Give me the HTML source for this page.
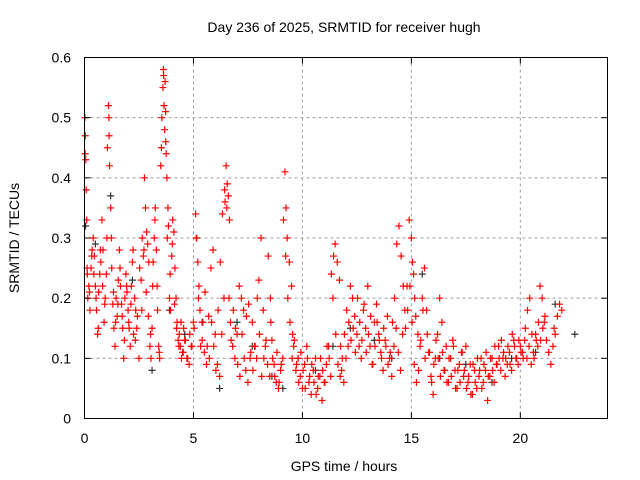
<!DOCTYPE html>
<html><head><meta charset="utf-8"><style>
html,body{margin:0;padding:0;background:#fff}
svg{display:block;font-family:"Liberation Sans",sans-serif}
</style></head><body>
<svg id="chart" width="640" height="480" viewBox="0 0 640 480">
<rect x="0" y="0" width="640" height="480" fill="#fff"/>
<text x="344" y="32" font-size="14" text-anchor="middle" fill="#000">Day 236 of 2025, SRMTID for receiver hugh</text>
<text x="344" y="471" font-size="14" text-anchor="middle" fill="#000">GPS time / hours</text>
<text x="0" y="0" font-size="14" text-anchor="middle" fill="#000" transform="translate(19,238) rotate(-90)">SRMTID / TECUs</text>
<g id="grid"></g>
<g id="marks"></g>
<g id="axes"></g>
</svg>
<script>
const xTicks=[0,5,10,15,20];
const yTicks=[0,0.1,0.2,0.3,0.4,0.5,0.6];
const yTickLabels=["0","0.1","0.2","0.3","0.4","0.5","0.6"];
const redTimes=[0.02,0.04,0.06,0.08,0.1,0.12,0.15,0.2,0.25,0.3,0.35,0.4,0.45,0.5,0.55,0.6,0.65,0.7,0.75,0.8,0.85,0.9,0.95,1.0,1.05,1.1,1.12,1.15,1.2,1.25,1.3,1.35,1.4,1.45,1.5,1.55,1.6,1.65,1.7,1.75,1.8,1.85,1.9,1.95,2.0,2.05,2.1,2.15,2.2,2.25,2.3,2.35,2.4,2.5,2.6,2.65,2.7,2.75,2.8,2.85,2.9,2.95,3.0,3.05,3.1,3.15,3.2,3.25,3.3,3.35,3.4,3.45,3.5,3.55,3.6,3.62,3.65,3.68,3.7,3.72,3.75,3.78,3.8,3.85,3.9,3.95,4.0,4.05,4.1,4.15,4.2,4.25,4.3,4.35,4.4,4.45,4.5,4.55,4.6,4.7,4.8,4.9,5.0,5.1,5.15,5.2,5.25,5.3,5.4,5.5,5.6,5.7,5.8,5.9,6.0,6.1,6.2,6.3,6.4,6.45,6.5,6.55,6.6,6.65,6.7,6.8,6.9,7.0,7.1,7.2,7.3,7.4,7.5,7.6,7.7,7.8,7.9,8.0,8.1,8.2,8.3,8.4,8.5,8.55,8.6,8.7,8.8,8.9,9.0,9.1,9.2,9.25,9.3,9.4,9.5,9.55,9.6,9.7,9.8,9.9,10.0,10.1,10.2,10.3,10.4,10.5,10.6,10.7,10.8,10.9,11.0,11.1,11.2,11.3,11.4,11.5,11.6,11.7,11.75,11.8,11.9,12.0,12.1,12.2,12.3,12.4,12.5,12.6,12.7,12.8,12.9,13.0,13.1,13.2,13.3,13.4,13.5,13.6,13.7,13.8,13.9,14.0,14.1,14.2,14.3,14.4,14.5,14.6,14.7,14.8,14.9,15.0,15.05,15.1,15.15,15.2,15.3,15.4,15.5,15.6,15.7,15.8,15.9,16.0,16.1,16.2,16.3,16.4,16.5,16.6,16.7,16.8,16.9,17.0,17.1,17.2,17.3,17.4,17.5,17.6,17.7,17.8,17.9,18.0,18.1,18.2,18.3,18.4,18.5,18.6,18.7,18.8,18.9,19.0,19.1,19.2,19.3,19.4,19.5,19.6,19.7,19.8,19.9,20.0,20.1,20.2,20.3,20.4,20.5,20.6,20.7,20.8,20.9,21.0,21.1,21.2,21.3,21.4,21.5,21.55,21.6,21.7,21.8,21.9,22.0,22.1,22.2,22.3,22.4,22.5,22.6,22.7];
const redValues=[0.5,0.47,0.43,0.38,0.33,0.25,0.2,0.22,0.18,0.25,0.28,0.3,0.27,0.22,0.18,0.14,0.21,0.24,0.26,0.33,0.28,0.16,0.2,0.24,0.45,0.52,0.5,0.42,0.35,0.25,0.19,0.15,0.12,0.2,0.17,0.23,0.28,0.22,0.19,0.15,0.1,0.2,0.24,0.21,0.18,0.15,0.12,0.22,0.26,0.14,0.2,0.18,0.15,0.1,0.23,0.3,0.27,0.4,0.35,0.31,0.29,0.26,0.12,0.1,0.15,0.26,0.3,0.35,0.28,0.18,0.12,0.1,0.42,0.5,0.55,0.58,0.52,0.48,0.56,0.51,0.44,0.4,0.3,0.32,0.2,0.18,0.27,0.33,0.31,0.25,0.2,0.16,0.13,0.14,0.12,0.1,0.11,0.15,0.13,0.1,0.09,0.12,0.16,0.34,0.3,0.26,0.22,0.18,0.13,0.11,0.09,0.17,0.25,0.28,0.14,0.09,0.07,0.14,0.2,0.36,0.42,0.39,0.37,0.33,0.16,0.12,0.1,0.14,0.22,0.2,0.18,0.08,0.06,0.1,0.16,0.12,0.1,0.23,0.3,0.18,0.12,0.09,0.07,0.16,0.13,0.09,0.06,0.05,0.08,0.1,0.41,0.35,0.3,0.26,0.22,0.14,0.12,0.08,0.1,0.07,0.05,0.09,0.12,0.06,0.04,0.08,0.1,0.05,0.07,0.03,0.06,0.09,0.12,0.07,0.2,0.29,0.26,0.23,0.12,0.08,0.06,0.1,0.12,0.22,0.2,0.17,0.14,0.12,0.1,0.18,0.15,0.22,0.12,0.09,0.16,0.19,0.14,0.11,0.08,0.13,0.17,0.1,0.07,0.12,0.15,0.11,0.08,0.14,0.18,0.22,0.33,0.3,0.26,0.24,0.2,0.17,0.14,0.12,0.2,0.25,0.18,0.11,0.07,0.04,0.1,0.14,0.2,0.16,0.08,0.12,0.06,0.1,0.13,0.08,0.05,0.09,0.11,0.07,0.12,0.06,0.09,0.04,0.08,0.05,0.07,0.1,0.06,0.08,0.03,0.07,0.1,0.06,0.09,0.12,0.08,0.1,0.07,0.09,0.11,0.08,0.13,0.1,0.09,0.12,0.11,0.13,0.1,0.12,0.09,0.11,0.14,0.12,0.22,0.2,0.16,0.13,0.11,0.09,0.12,0.15,0.14,0.17,0.19,0.18];
const redTimes2=[0.03,0.13,0.23,0.33,0.43,0.53,0.63,0.73,0.83,0.93,1.03,1.13,1.23,1.33,1.43,1.53,1.63,1.73,1.83,1.93,2.03,2.13,2.23,2.33,2.43,2.53,2.63,2.73,2.83,2.93,3.03,3.13,3.23,3.33,3.43,3.53,3.63,3.73,3.83,3.93,4.03,4.13,4.23,4.33,4.43,4.53,4.63,4.73,4.83,4.93,5.03,5.13,5.23,5.33,5.43,5.53,5.63,5.73,5.83,5.93,6.03,6.13,6.23,6.33,6.43,6.53,6.63,6.73,6.83,6.93,7.03,7.13,7.23,7.33,7.43,7.53,7.63,7.73,7.83,7.93,8.03,8.13,8.23,8.33,8.43,8.53,8.63,8.73,8.83,8.93,9.03,9.13,9.23,9.33,9.43,9.53,9.63,9.73,9.83,9.93,10.03,10.13,10.23,10.33,10.43,10.53,10.63,10.73,10.83,10.93,11.03,11.13,11.23,11.33,11.43,11.53,11.63,11.73,11.83,11.93,12.03,12.13,12.23,12.33,12.43,12.53,12.63,12.73,12.83,12.93,13.03,13.13,13.23,13.33,13.43,13.53,13.63,13.73,13.83,13.93,14.03,14.13,14.23,14.33,14.43,14.53,14.63,14.73,14.83,14.93,15.03,15.13,15.23,15.33,15.43,15.53,15.63,15.73,15.83,15.93,16.03,16.13,16.23,16.33,16.43,16.53,16.63,16.73,16.83,16.93,17.03,17.13,17.23,17.33,17.43,17.53,17.63,17.73,17.83,17.93,18.03,18.13,18.23,18.33,18.43,18.53,18.63,18.73,18.83,18.93,19.03,19.13,19.23,19.33,19.43,19.53,19.63,19.73,19.83,19.93,20.03,20.13,20.23,20.33,20.43,20.53,20.63,20.73,20.83,20.93,21.03,21.13,21.23,21.33,21.43,21.53,21.63,21.73,21.83,21.93,22.03,22.13,22.23,22.33,22.43,22.53,22.63,22.73,22.83];
const redValues2=[0.44,0.24,0.21,0.27,0.24,0.2,0.15,0.28,0.22,0.19,0.3,0.47,0.3,0.21,0.16,0.19,0.25,0.17,0.13,0.22,0.16,0.19,0.28,0.13,0.17,0.25,0.18,0.28,0.21,0.17,0.14,0.22,0.33,0.22,0.11,0.45,0.57,0.46,0.35,0.24,0.29,0.19,0.15,0.12,0.16,0.11,0.13,0.1,0.14,0.12,0.15,0.3,0.2,0.12,0.16,0.21,0.12,0.1,0.16,0.12,0.08,0.18,0.26,0.34,0.38,0.35,0.2,0.13,0.18,0.15,0.09,0.07,0.14,0.1,0.17,0.19,0.11,0.08,0.12,0.2,0.14,0.07,0.1,0.13,0.27,0.2,0.1,0.07,0.11,0.06,0.09,0.33,0.27,0.2,0.16,0.1,0.13,0.09,0.06,0.11,0.08,0.05,0.1,0.07,0.09,0.06,0.04,0.07,0.1,0.08,0.06,0.12,0.1,0.24,0.27,0.14,0.09,0.07,0.1,0.14,0.18,0.16,0.13,0.15,0.11,0.2,0.16,0.13,0.19,0.11,0.14,0.17,0.09,0.12,0.16,0.13,0.1,0.15,0.12,0.09,0.11,0.16,0.2,0.29,0.32,0.27,0.22,0.15,0.18,0.22,0.16,0.09,0.06,0.08,0.13,0.18,0.1,0.14,0.11,0.06,0.09,0.13,0.1,0.07,0.11,0.08,0.06,0.1,0.07,0.12,0.05,0.08,0.06,0.11,0.08,0.05,0.07,0.04,0.09,0.06,0.1,0.08,0.05,0.09,0.11,0.07,0.1,0.08,0.12,0.09,0.1,0.13,0.11,0.1,0.12,0.09,0.14,0.12,0.1,0.13,0.11,0.1,0.15,0.18,0.2,0.14,0.1,0.13,0.16,0.13,0.15,0.17];
const grayTimes=[0.05,0.5,1.2,2.2,3.1,3.9,4.6,5.4,6.2,7.0,7.7,8.6,9.1,9.8,10.6,11.4,12.2,13.3,14.1,15.5,16.3,17.5,18.7,19.6,20.7,21.6,22.5];
const grayValues=[0.32,0.29,0.37,0.23,0.08,0.18,0.14,0.16,0.05,0.16,0.12,0.07,0.05,0.1,0.08,0.12,0.15,0.13,0.1,0.24,0.1,0.09,0.06,0.1,0.11,0.19,0.14];
const NS='http://www.w3.org/2000/svg';
const X0=84.5,X1=607.5,Y0=418.5,Y1=57.5;
function xs(t){return X0+(t/24)*(X1-X0);}
function ys(v){return Y0-(v/0.6)*(Y0-Y1);}
function mk(tag,attrs,parent){const e=document.createElementNS(NS,tag);for(const k in attrs)e.setAttribute(k,attrs[k]);parent.appendChild(e);return e;}
const grid=document.getElementById('grid'),marks=document.getElementById('marks'),axes=document.getElementById('axes');
xTicks.forEach(t=>{if(t>0){const l=mk('line',{x1:xs(t),x2:xs(t),y1:Y1,y2:Y0,stroke:'#a0a0a0','stroke-dasharray':'3,3'},grid);

}});
yTicks.forEach(v=>{if(v>0&&v<0.6){const l=mk('line',{x1:X0,x2:X1,y1:ys(v),y2:ys(v),stroke:'#a0a0a0','stroke-dasharray':'3,3'},grid);

}});
function plus(t,v,col,name){const x=xs(t),y=ys(v);const p=mk('path',{d:`M${x-3.5},${y}H${x+3.5}M${x},${y-3.5}V${y+3.5}`,stroke:col,'stroke-width':1.2,fill:'none'},marks);

}
grayTimes.forEach((t,i)=>plus(t,grayValues[i],'#333','gray-point'));
redTimes.forEach((t,i)=>plus(t,redValues[i],'#ff0000','red-point'));
redTimes2.forEach((t,i)=>plus(t,redValues2[i],'#ff0000','red-point'));
const frame=mk('rect',{x:X0,y:Y1,width:X1-X0,height:Y0-Y1,fill:'none',stroke:'#000','stroke-width':1},axes);


xTicks.forEach(t=>{mk('line',{x1:xs(t),x2:xs(t),y1:Y0,y2:Y0-6,stroke:'#000'},axes);mk('line',{x1:xs(t),x2:xs(t),y1:Y1,y2:Y1+6,stroke:'#000'},axes);
const tx=mk('text',{x:xs(t),y:443,'font-size':14,'text-anchor':'middle'},axes);tx.textContent=t;

});
yTicks.forEach((v,i)=>{mk('line',{x1:X0,x2:X0+6,y1:ys(v),y2:ys(v),stroke:'#000'},axes);mk('line',{x1:X1,x2:X1-6,y1:ys(v),y2:ys(v),stroke:'#000'},axes);
const tx=mk('text',{x:71,y:ys(v)+5,'font-size':14,'text-anchor':'end'},axes);tx.textContent=yTickLabels[i];

});
</script>
</body></html>
